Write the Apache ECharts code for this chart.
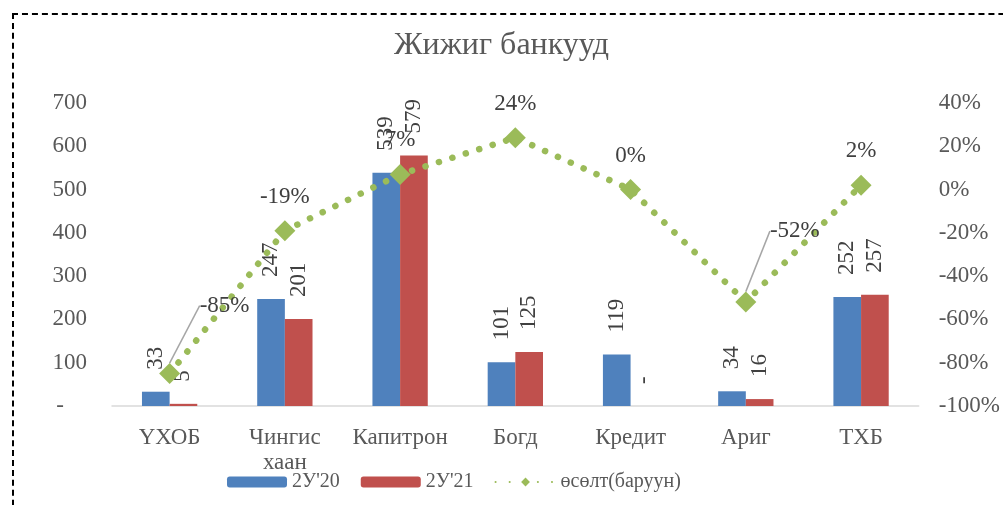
<!DOCTYPE html>
<html>
<head>
<meta charset="utf-8">
<script src="https://cdn.jsdelivr.net/npm/echarts@6/dist/echarts.min.js"></script>
<style>
  html, body { margin: 0; padding: 0; background: #fff; }
  #chart { width: 1003px; height: 505px; }
  #frame { position: absolute; left: 12px; top: 13px; width: 1100px; height: 600px;
           border-top: 2px dashed #000; border-left: 2px dashed #000; pointer-events: none; }
</style>
</head>
<body>
<div id="chart"></div>
<div id="frame"></div>
<script>
var categories = ['ҮХОБ', 'Чингис\nхаан', 'Капитрон', 'Богд', 'Кредит', 'Ариг', 'ТХБ'];
var values20 = [33, 247, 539, 101, 119, 34, 252];
var values21 = [5, 201, 579, 125, 0, 16, 257];
var growth = [-85, -19, 7, 24, 0, -52, 2];
var seriesNames = ["2У'20", "2У'21", 'өсөлт(баруун)'];
var leftTicks = [0, 100, 200, 300, 400, 500, 600, 700];
var rightTicks = [-100, -80, -60, -40, -20, 0, 20, 40];

var font = "'Liberation Serif', 'DejaVu Serif', serif";
var txt = '#595959';

// labels with leader lines (moved off the point)
var movedLabels = { 0: { dx: 55, dy: -34 }, 5: { dx: 49, dy: -37 } };
var growthData = growth.map(function (v, i) {
  return movedLabels[i] ? { value: v, labelLine: { show: true } } : { value: v };
});

var myChart = echarts.init(document.getElementById('chart'));
myChart.setOption({
  animation: false,
  textStyle: { fontFamily: font },
  title: {
    text: 'Жижиг банкууд',
    left: 'center',
    top: 25,
    textStyle: { fontFamily: font, fontSize: 32, fontWeight: 'normal', color: txt }
  },
  legend: {
    bottom: 8,
    left: 222,
    itemWidth: 60,
    itemHeight: 11,
    itemGap: 21,
    textStyle: { fontFamily: font, fontSize: 20, color: txt },
    data: seriesNames
  },
  grid: { left: 112, right: 82, top: 103, bottom: 99 },
  xAxis: {
    type: 'category',
    data: categories,
    axisLine: { lineStyle: { color: '#d9d9d9', width: 1.5 } },
    axisTick: { show: false },
    axisLabel: { interval: 0, fontFamily: font, fontSize: 23, color: txt, margin: 19, lineHeight: 25 }
  },
  yAxis: [
    {
      type: 'value',
      min: leftTicks[0],
      max: leftTicks[leftTicks.length - 1],
      interval: 100,
      splitLine: { show: false },
      axisLine: { show: false },
      axisTick: { show: false },
      axisLabel: {
        fontFamily: font, fontSize: 23, color: txt, margin: 25,
        formatter: function (v) { return v === 0 ? '-    ' : v; }
      }
    },
    {
      type: 'value',
      min: rightTicks[0],
      max: rightTicks[rightTicks.length - 1],
      interval: 20,
      splitLine: { show: false },
      axisLine: { show: false },
      axisTick: { show: false },
      axisLabel: {
        fontFamily: font, fontSize: 23, color: txt, margin: 20, align: 'left',
        formatter: function (v) { return v + '%'; }
      }
    }
  ],
  series: [
    {
      name: seriesNames[0],
      type: 'bar',
      data: values20,
      barGap: '0%',
      barCategoryGap: '52%',
      itemStyle: { color: '#4F81BD' },
      label: {
        show: true, position: 'top', rotate: 90, align: 'left', verticalAlign: 'middle',
        distance: 22, fontFamily: font, fontSize: 23, color: '#404040'
      }
    },
    {
      name: seriesNames[1],
      type: 'bar',
      data: values21,
      itemStyle: { color: '#C0504D' },
      label: {
        show: true, position: 'top', rotate: 90, align: 'left', verticalAlign: 'middle',
        distance: 22, fontFamily: font, fontSize: 23, color: '#404040',
        formatter: function (p) { return p.value === 0 ? '-' : p.value; }
      }
    },
    {
      name: seriesNames[2],
      type: 'line',
      yAxisIndex: 1,
      data: growthData,
      z: 5,
      symbol: 'diamond',
      symbolSize: 21,
      itemStyle: { color: '#9BBB59' },
      lineStyle: { color: '#9BBB59', width: 6.5, type: [0.1, 14], cap: 'round' },
      label: {
        show: true, position: 'top', distance: 12,
        fontFamily: font, fontSize: 23, color: '#404040',
        formatter: function (p) { return p.value + '%'; }
      },
      labelLine: { show: false, lineStyle: { color: '#a6a6a6', width: 1.5 } },
      labelLayout: function (params) {
        return movedLabels[params.dataIndex] || {};
      }
    }
  ]
});
</script>
</body>
</html>
